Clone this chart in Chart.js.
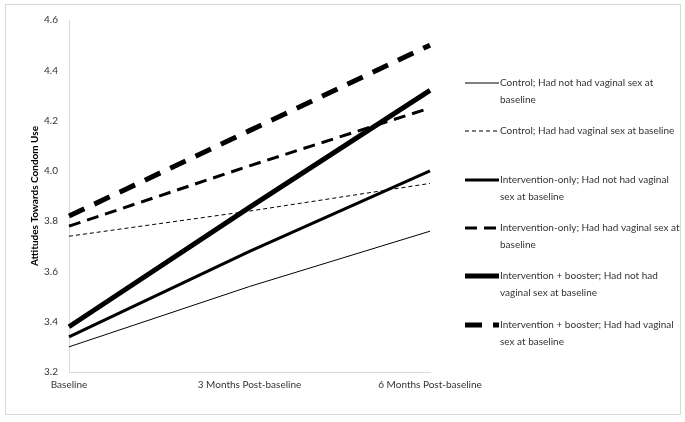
<!DOCTYPE html>
<html><head><meta charset="utf-8">
<script src="https://cdn.jsdelivr.net/npm/chart.js@4"></script>
<style>html,body{margin:0;padding:0;background:#fff}#wrap{width:685px;height:422px;position:relative}</style>
</head><body><div id="wrap"><canvas id="c" width="685" height="422"></canvas></div>
<script>
const categories = ["Baseline", "3 Months Post-baseline", "6 Months Post-baseline"];
const controlNotHad = [3.30, 3.54, 3.76];
const controlHad = [3.74, 3.84, 3.95];
const interventionNotHad = [3.34, 3.68, 4.00];
const interventionHad = [3.78, 4.02, 4.25];
const boosterNotHad = [3.38, 3.855, 4.32];
const boosterHad = [3.82, 4.16, 4.50];
const seriesNames = [
  ["Control; Had not had vaginal sex at", "baseline"],
  ["Control; Had had vaginal sex at baseline"],
  ["Intervention-only; Had not had vaginal", "sex at baseline"],
  ["Intervention-only; Had had vaginal sex at", "baseline"],
  ["Intervention + booster; Had not had", "vaginal sex at baseline"],
  ["Intervention + booster; Had had vaginal", "sex at baseline"]
];
const yTickValues = [3.2, 3.4, 3.6, 3.8, 4.0, 4.2, 4.4, 4.6];
const yTitle = "Attitudes Towards Condom Use";

const FONT = "Lato";
const TEXT = '#333333';
const styles = [
  {w: 1, dash: []},
  {w: 1, dash: [4, 3]},
  {w: 3, dash: []},
  {w: 3, dash: [12, 7]},
  {w: 5, dash: []},
  {w: 5, dash: [17, 11]}
];
const seriesData = [controlNotHad, controlHad, interventionNotHad, interventionHad, boosterNotHad, boosterHad];

const legendRowY = [83, 131, 180, 228, 276, 325];

const framePlugin = {
  id: 'frame',
  beforeDraw(chart) {
    const ctx = chart.ctx;
    ctx.save();
    ctx.fillStyle = '#fff';
    ctx.fillRect(0, 0, chart.width, chart.height);
    ctx.strokeStyle = '#d9d9d9';
    ctx.lineWidth = 1;
    ctx.strokeRect(5.5, 4.5, 675, 410);
    ctx.restore();
  },
  afterDraw(chart) {
    const ctx = chart.ctx;
    ctx.save();
    chart.data.datasets.forEach((ds, i) => {
      const y = legendRowY[i];
      ctx.strokeStyle = '#000';
      ctx.lineWidth = ds.borderWidth;
      ctx.setLineDash(ds.borderDash || []);
      ctx.beginPath();
      ctx.moveTo(465, y);
      ctx.lineTo(499, y);
      ctx.stroke();
      ctx.setLineDash([]);
      ctx.fillStyle = TEXT;
      ctx.font = '10px ' + FONT;
      ctx.textBaseline = 'middle';
      ctx.textAlign = 'left';
      seriesNames[i].forEach((t, k) => ctx.fillText(t, 500, y + k * 17));
    });
    ctx.restore();
  }
};

new Chart(document.getElementById('c'), {
  type: 'line',
  data: {
    labels: categories,
    datasets: seriesData.map((d, i) => ({
      label: seriesNames[i].join(' '),
      data: d,
      borderColor: '#000',
      backgroundColor: '#000',
      borderWidth: styles[i].w,
      borderDash: styles[i].dash,
      borderCapStyle: 'butt',
      pointRadius: 0,
      tension: 0,
      fill: false
    }))
  },
  options: {
    responsive: false,
    animation: false,
    devicePixelRatio: 1,
    layout: {padding: {left: 5, right: 255, top: 20, bottom: 7}},
    plugins: {legend: {display: false}, tooltip: {enabled: false}},
    scales: {
      x: {
        offset: false,
        grid: {display: false, drawTicks: false},
        border: {display: true, color: '#d9d9d9', width: 1},
        ticks: {color: TEXT, font: {family: FONT, size: 10}, padding: 7, maxRotation: 0, autoSkip: false},
        afterFit: s => { s.height = 43; }
      },
      y: {
        min: 3.2, max: 4.6,
        afterBuildTicks: s => { s.ticks = yTickValues.map(v => ({value: v})); },
        grid: {display: false, drawTicks: false},
        border: {display: true, color: '#d9d9d9', width: 1},
        ticks: {color: TEXT, font: {family: FONT, size: 10}, padding: 11, callback: v => v.toFixed(1)},
        title: {display: true, text: yTitle, color: '#000', font: {family: FONT, size: 10, weight: 'bold'}, padding: {top: 24, bottom: 0}},
        afterFit: s => { s.width = 64; }
      }
    }
  },
  plugins: [framePlugin]
});
</script>
</body></html>
